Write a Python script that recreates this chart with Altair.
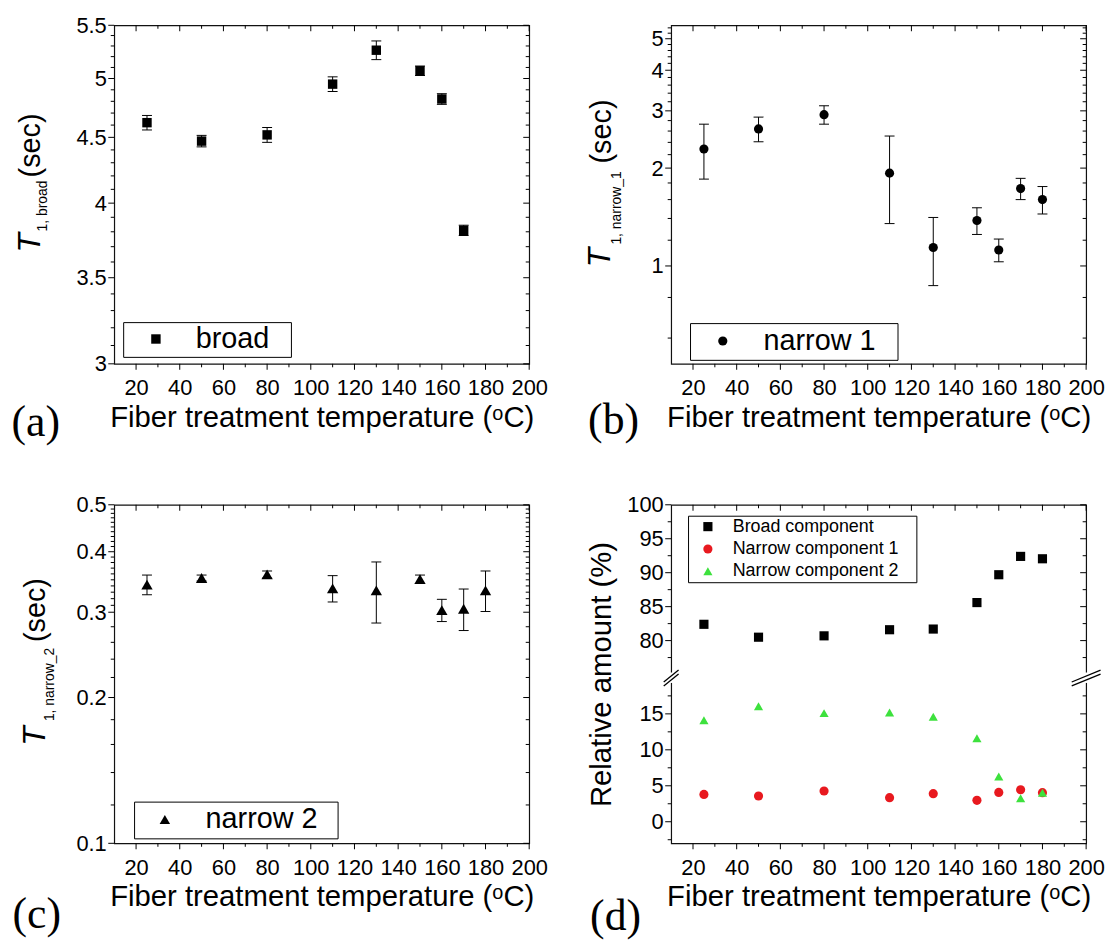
import altair as alt
import pandas as pd
import numpy as np

# ---------------- data ----------------
temps_a = [25, 50, 80, 110, 130, 150, 160, 170]
t1_broad = [4.62, 4.47, 4.52, 4.95, 5.26, 5.07, 4.82, 3.81]
t1_broad_err = [0.06, 0.046, 0.06, 0.065, 0.088, 0.043, 0.046, 0.035]

temps = [25, 50, 80, 110, 130, 150, 160, 170, 180]
t1_narrow1 = [2.29, 2.64, 2.92, 1.93, 1.14, 1.38, 1.12, 1.73, 1.60]
t1_narrow1_err = [0.44, 0.23, 0.19, 0.58, 0.27, 0.13, 0.09, 0.13, 0.155]

t1_narrow2 = [0.342, 0.353, 0.359, 0.336, 0.333, 0.351, 0.303, 0.305, 0.333]
t1_narrow2_err = [0.016, 0.005, 0.006, 0.021, 0.048, 0.007, 0.016, 0.030, 0.032]

amount_broad = [82.4, 80.5, 80.7, 81.6, 81.7, 85.6, 89.7, 92.4, 92.05]
amount_narrow1 = [3.8, 3.58, 4.27, 3.35, 3.9, 2.98, 4.08, 4.45, 4.04]
amount_narrow2 = [14.1, 16.05, 15.1, 15.2, 14.6, 11.6, 6.3, 3.26, 4.04]

series_d = ["Broad component", "Narrow component 1", "Narrow component 2"]
colors_d = ["#000000", "#e8191f", "#3de13d"]
shapes_d = ["square", "circle", "triangle-up"]
sizes_d = [85, 85, 130]

x_title = "Fiber treatment temperature (\u1d52C)"
x_major = [20, 40, 60, 80, 100, 120, 140, 160, 180, 200]
x_minor = [30, 50, 70, 90, 110, 130, 150, 170, 190]

FONT = "Liberation Sans"
W, H = 418, 341
NB, HAIR, ZW = "\u00a0", "\u200a", "\u200b"
MAJ, MIN = 6, 3.5

def err_df(xs, vs, es, name):
    return pd.DataFrame({
        "T": xs, "v": vs,
        "lo": [v - e for v, e in zip(vs, es)],
        "hi": [v + e for v, e in zip(vs, es)],
        "series": [name] * len(xs),
    })

def label_axis_layer(df, xs, ys, ymaj, yfmt, ytitle=None):
    xa = alt.Axis(orient="bottom", values=x_major, format="d", title=x_title, ticks=False,
                  domain=False, grid=False, labelFlush=False, labelOverlap=False,
                  labelPadding=14, titlePadding=5)
    ya = alt.Axis(orient="left", values=ymaj, format=yfmt, title=ytitle, ticks=False,
                  domain=False, grid=False, labelFlush=False, labelOverlap=False,
                  labelPadding=8, titlePadding=10)
    return alt.Chart(df).mark_point(opacity=0).encode(
        x=alt.X("T:Q", scale=xs, axis=xa), y=alt.Y("v:Q", scale=ys, axis=ya))

def tick_layers(xs, ys, ymaj, ymin):
    L = []
    for vals, ln in ((x_major, MAJ), (x_minor, MIN)):
        d = pd.DataFrame({"t": vals})
        xe = alt.X("t:Q", scale=xs, axis=None)
        L.append(alt.Chart(d).mark_rule(color="black", strokeWidth=1).encode(
            x=xe, y=alt.value(H), y2=alt.value(H + ln)))
        L.append(alt.Chart(d).mark_rule(color="black", strokeWidth=1).encode(
            x=xe, y=alt.value(0), y2=alt.value(ln)))
    for vals, ln in ((ymaj, MAJ), (ymin, MIN)):
        d = pd.DataFrame({"t": vals})
        ye = alt.Y("t:Q", scale=ys, axis=None)
        L.append(alt.Chart(d).mark_rule(color="black", strokeWidth=1).encode(
            y=ye, x=alt.value(-ln), x2=alt.value(0)))
        L.append(alt.Chart(d).mark_rule(color="black", strokeWidth=1).encode(
            y=ye, x=alt.value(W - ln), x2=alt.value(W)))
    return L

def error_layers(df, xs, ys):
    r = alt.Chart(df).mark_rule(color="black", strokeWidth=1).encode(
        x=alt.X("T:Q", scale=xs, axis=None),
        y=alt.Y("lo:Q", scale=ys, axis=None), y2="hi:Q")
    c1 = alt.Chart(df).mark_tick(orient="horizontal", color="black", size=10, thickness=1, opacity=1).encode(
        x=alt.X("T:Q", scale=xs, axis=None), y=alt.Y("lo:Q", scale=ys, axis=None))
    c2 = alt.Chart(df).mark_tick(orient="horizontal", color="black", size=10, thickness=1, opacity=1).encode(
        x=alt.X("T:Q", scale=xs, axis=None), y=alt.Y("hi:Q", scale=ys, axis=None))
    return [r, c1, c2]

one = alt.Data(values=[{}])

def txt(s, x, y, size, angle=270, style="normal", font=FONT):
    return alt.Chart(one).mark_text(text=s, font=font, fontSize=size, fontStyle=style,
                                    angle=angle, align="center", baseline="middle",
                                    color="black").encode(x=alt.value(x), y=alt.value(y))

def ytitle_layers(sub, T_pos, sub_pos, sec_pos):
    return [txt("T", T_pos[0], T_pos[1], 32, style="italic"),
            txt(sub, sub_pos[0], sub_pos[1], 14),
            txt("(sec)", sec_pos[0], sec_pos[1], 29)]

def letter(s, x, y):
    return txt(s, x, y, 44, angle=0, font="Liberation Serif")

def single_legend(lx, ly, pad, soff, loff, tail, ssize):
    return alt.Legend(orient="none", legendX=lx, legendY=ly, title=None, padding=pad,
                      strokeColor="black", fillColor="white", cornerRadius=0,
                      labelFont=FONT, labelFontSize=29, labelColor="black", labelLimit=500,
                      symbolSize=ssize, symbolFillColor="black", symbolStrokeColor="black",
                      symbolStrokeWidth=0, symbolOpacity=1, symbolOffset=soff, labelOffset=loff,
                      labelExpr="datum.label + '" + tail + ZW + "'")

xs = alt.Scale(domain=[10, 200], nice=False, zero=False)

def panel(df, ys, ymaj, ymin, yfmt, extra_layers, ytitle=None):
    return alt.layer(
        label_axis_layer(df, xs, ys, ymaj, yfmt, ytitle),
        *tick_layers(xs, ys, ymaj, ymin),
        *extra_layers,
    ).resolve_axis(x="independent", y="independent").properties(width=W, height=H)

# ---------------- panel (a) ----------------
df_a = err_df(temps_a, t1_broad, t1_broad_err, "broad")
ys_a = alt.Scale(type="log", domain=[3, 5.5], nice=False)
a_maj = [3, 3.5, 4, 4.5, 5, 5.5]
a_min = [round(v, 1) for v in np.arange(3.1, 5.45, 0.1) if abs(v * 2 - round(v * 2)) > 1e-6]
pts_a = alt.Chart(df_a).mark_point(filled=True, opacity=1, size=90, color="black").encode(
    x=alt.X("T:Q", scale=xs, axis=None), y=alt.Y("v:Q", scale=ys_a, axis=None),
    shape=alt.Shape("series:N", scale=alt.Scale(domain=["broad"], range=["square"]),
                    legend=single_legend(9, 299, 2.5, 16, 25.5, NB + NB + HAIR, 90)))
panel_a = panel(df_a, ys_a, a_maj, a_min, ".1~f", [
    *error_layers(df_a, xs, ys_a), pts_a,
    *ytitle_layers("1, broad", (-85, 219), (-72, 182), (-84, 121)),
    letter("(a)", -79, 401)])

# ---------------- panel (b) ----------------
df_b = err_df(temps, t1_narrow1, t1_narrow1_err, "narrow 1")
ys_b = alt.Scale(type="log", domain=[0.5, 5.5], nice=False)
b_maj = [1, 2, 3, 4, 5]
b_min = [round(v, 1) for v in np.arange(0.6, 5.45, 0.2) if abs(v - round(v)) > 1e-6]
pts_b = alt.Chart(df_b).mark_point(filled=True, opacity=1, size=85, color="black").encode(
    x=alt.X("T:Q", scale=xs, axis=None), y=alt.Y("v:Q", scale=ys_b, axis=None),
    shape=alt.Shape("series:N", scale=alt.Scale(domain=["narrow 1"], range=["circle"]),
                    legend=single_legend(19, 300, 3.5, 15, 26.5, NB + NB + HAIR, 85)))
panel_b = panel(df_b, ys_b, b_maj, b_min, "d", [
    *error_layers(df_b, xs, ys_b), pts_b,
    *ytitle_layers("1, narrow_1", (-72, 234), (-55, 184), (-70, 107)),
    letter("(b)", -58, 399)])

# ---------------- panel (c) ----------------
df_c = err_df(temps, t1_narrow2, t1_narrow2_err, "narrow 2")
ys_c = alt.Scale(type="log", domain=[0.1, 0.5], nice=False)
c_maj = [0.1, 0.2, 0.3, 0.4, 0.5]
c_min = [round(v, 2) for v in np.arange(0.12, 0.295, 0.02)] + \
        [round(v, 2) for v in np.arange(0.31, 0.495, 0.01) if abs(v - 0.4) > 1e-6]
pts_c = alt.Chart(df_c).mark_point(filled=True, opacity=1, size=130, color="black").encode(
    x=alt.X("T:Q", scale=xs, axis=None), y=alt.Y("v:Q", scale=ys_c, axis=None),
    shape=alt.Shape("series:N", scale=alt.Scale(domain=["narrow 2"], range=["triangle-up"]),
                    legend=single_legend(20, 299, 3.5, 13, 26.5, NB + NB, 110)))
panel_c = panel(df_c, ys_c, c_maj, c_min, ".1f", [
    *error_layers(df_c, xs, ys_c), pts_c,
    *ytitle_layers("1, narrow_2", (-80, 233), (-65, 181), (-79, 106)),
    letter("(c)", -78, 413)])

# ---------------- panel (d) ----------------
df_d = pd.DataFrame({
    "T": temps * 3,
    "v": amount_broad + amount_narrow1 + amount_narrow2,
    "series": [series_d[0]] * 9 + [series_d[1]] * 9 + [series_d[2]] * 9,
})
ys_d = alt.Scale(domain=[-3, 19.5, 75, 100], range=[341, 178, 171, 0], nice=False, zero=False)
d_maj = [0, 5, 10, 15, 80, 85, 90, 95, 100]
d_min = [-2.5, 2.5, 7.5, 12.5, 17.5, 77.5, 82.5, 87.5, 92.5, 97.5]
leg_d = alt.Legend(orient="none", legendX=17, legendY=11, title=None, padding=2,
                   strokeColor="black", fillColor="white", cornerRadius=0,
                   labelFont=FONT, labelFontSize=18, labelColor="black", labelLimit=500,
                   symbolSize=80, symbolStrokeWidth=0, symbolOpacity=1,
                   symbolOffset=9, labelOffset=16, rowPadding=4.5,
                   labelExpr="datum.label + '" + NB * 3 + ZW + "'")
pts_d = alt.Chart(df_d).mark_point(filled=True, opacity=1).encode(
    x=alt.X("T:Q", scale=xs, axis=None), y=alt.Y("v:Q", scale=ys_d, axis=None),
    color=alt.Color("series:N", scale=alt.Scale(domain=series_d, range=colors_d), legend=leg_d),
    shape=alt.Shape("series:N", scale=alt.Scale(domain=series_d, range=shapes_d), legend=leg_d),
    size=alt.Size("series:N", scale=alt.Scale(domain=series_d, range=sizes_d), legend=None))
brk = pd.DataFrame({
    "x": [6.6, 6.6, 193.4, 193.4],
    "x2": [13.4, 13.4, 206.6, 206.6],
    "y": [18.88, 19.43, 18.88, 19.43],
    "y2": [75.07, 75.66, 75.07, 75.66],
})
gap = pd.DataFrame({"x": [10, 200], "y": [19.3, 19.3], "y2": [75.3, 75.3]})
gap_l = alt.Chart(gap).mark_rule(color="white", strokeWidth=4).encode(
    x=alt.X("x:Q", scale=xs, axis=None), y=alt.Y("y:Q", scale=ys_d, axis=None), y2="y2:Q")
brk_l = alt.Chart(brk).mark_rule(color="black", strokeWidth=1.3).encode(
    x=alt.X("x:Q", scale=xs, axis=None), x2="x2:Q",
    y=alt.Y("y:Q", scale=ys_d, axis=None), y2="y2:Q")
panel_d = panel(df_d, ys_d, d_maj, d_min, "d", [
    gap_l, brk_l, pts_d, letter("(d)", -56, 415)], ytitle="Relative amount (%)")

chart = alt.ConcatChart(
    concat=[panel_a, panel_b, panel_c, panel_d], columns=2,
    spacing={"row": 142, "column": 143}, bounds="flush",
).resolve_scale(shape="independent", color="independent", size="independent",
                x="independent", y="independent"
).resolve_legend(shape="independent", color="independent", size="independent"
).properties(padding={"left": 2, "top": 2, "right": 0, "bottom": 0}
).configure_view(stroke="#111111", strokeWidth=1.2
).configure_axis(labelFont=FONT, labelFontSize=22, labelColor="black",
                 titleFont=FONT, titleFontSize=29.5, titleColor="black", titleFontWeight="normal")

chart.save("out.html", embed_options={"renderer": "svg", "actions": False})
